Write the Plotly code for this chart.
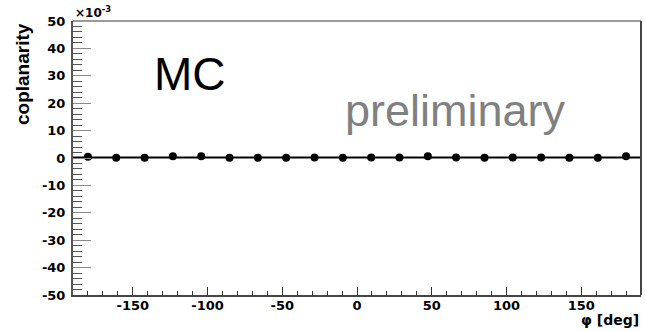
import plotly.graph_objects as go

# Bin centres in azimuthal angle (deg) and coplanarity (units of 1e-3)
phi_deg = [-180.0, -161.1, -142.1, -123.2, -104.2, -85.3, -66.3, -47.4, -28.4, -9.5,
           9.5, 28.4, 47.4, 66.3, 85.3, 104.2, 123.2, 142.1, 161.1, 180.0]
coplanarity = [0.5, 0.1, 0.1, 0.6, 0.6, 0.1, 0.1, 0.1, 0.2, 0.1,
               0.2, 0.2, 0.6, 0.2, 0.1, 0.2, 0.2, 0.1, 0.1, 0.6]
fit_value = 0.2

x_ticks = [-150, -100, -50, 0, 50, 100, 150]
y_ticks = [-50, -40, -30, -20, -10, 0, 10, 20, 30, 40, 50]

tick_font = dict(family="DejaVu Sans", size=13, color="black", weight="bold")

fig = go.Figure()
fig.add_trace(go.Scatter(
    x=phi_deg, y=coplanarity, mode="markers",
    marker=dict(symbol="circle", size=8, color="black"),
    showlegend=False, cliponaxis=False,
))

# constant fit across the full range
fig.add_shape(type="line", xref="paper", x0=0, x1=1, yref="y", y0=fit_value, y1=fit_value,
              line=dict(color="black", width=2), layer="below")
# frame: top and right borders
fig.add_shape(type="line", xref="paper", yref="paper", x0=0, x1=1, y0=1, y1=1,
              line=dict(color="#9a9a9a", width=2))
fig.add_shape(type="line", xref="paper", yref="paper", x0=1, x1=1, y0=0, y1=1,
              line=dict(color="#444444", width=2))

fig.update_layout(
    width=645, height=331,
    margin=dict(l=73, r=4, t=21, b=36),
    paper_bgcolor="white", plot_bgcolor="white",
    xaxis=dict(
        range=[-190, 190], tickvals=x_ticks, ticktext=[str(v) for v in x_ticks],
        ticks="inside", ticklen=8, tickwidth=1, tickcolor="#333333",
        minor=dict(dtick=10, ticks="inside", ticklen=4, tickcolor="#333333"),
        showgrid=False, zeroline=False, showline=True, linecolor="#444444", linewidth=2,
        tickfont=tick_font, ticklabelstandoff=-3,
    ),
    yaxis=dict(
        range=[-50, 50], tickvals=y_ticks, ticktext=[str(v) for v in y_ticks],
        ticks="inside", ticklen=18, tickwidth=1, tickcolor="#8a8a8a",
        minor=dict(dtick=2, ticks="inside", ticklen=9, tickcolor="#555555"),
        showgrid=False, zeroline=False, showline=True, linecolor="#555555", linewidth=2,
        tickfont=tick_font, ticklabelstandoff=3,
    ),
    annotations=[
        dict(text="coplanarity", xref="paper", yref="paper", x=0, y=1, xshift=-51,
             xanchor="center", yanchor="top", textangle=-90, showarrow=False,
             font=dict(family="Liberation Sans", size=19, color="black", weight="bold")),
        dict(text="×10<sup>-3</sup>", xref="paper", yref="paper", x=0, y=1, yshift=-1,
             xanchor="left", yanchor="bottom", showarrow=False,
             font=dict(family="DejaVu Sans", size=12, color="black", weight="bold")),
        dict(text="φ [deg]", xref="paper", yref="paper", x=1, y=0, yshift=-25,
             xanchor="right", yanchor="middle", showarrow=False,
             font=dict(family="DejaVu Sans", size=14, color="black", weight="bold")),
        dict(text="MC", xref="x", yref="y", x=-112, y=30.5,
             xanchor="center", yanchor="middle", showarrow=False,
             font=dict(family="Liberation Sans", size=46, color="black")),
        dict(text="preliminary", xref="x", yref="y", x=66, y=17.5,
             xanchor="center", yanchor="middle", showarrow=False,
             font=dict(family="Liberation Sans", size=45, color="#808080")),
    ],
)

fig.write_html("out.html")
